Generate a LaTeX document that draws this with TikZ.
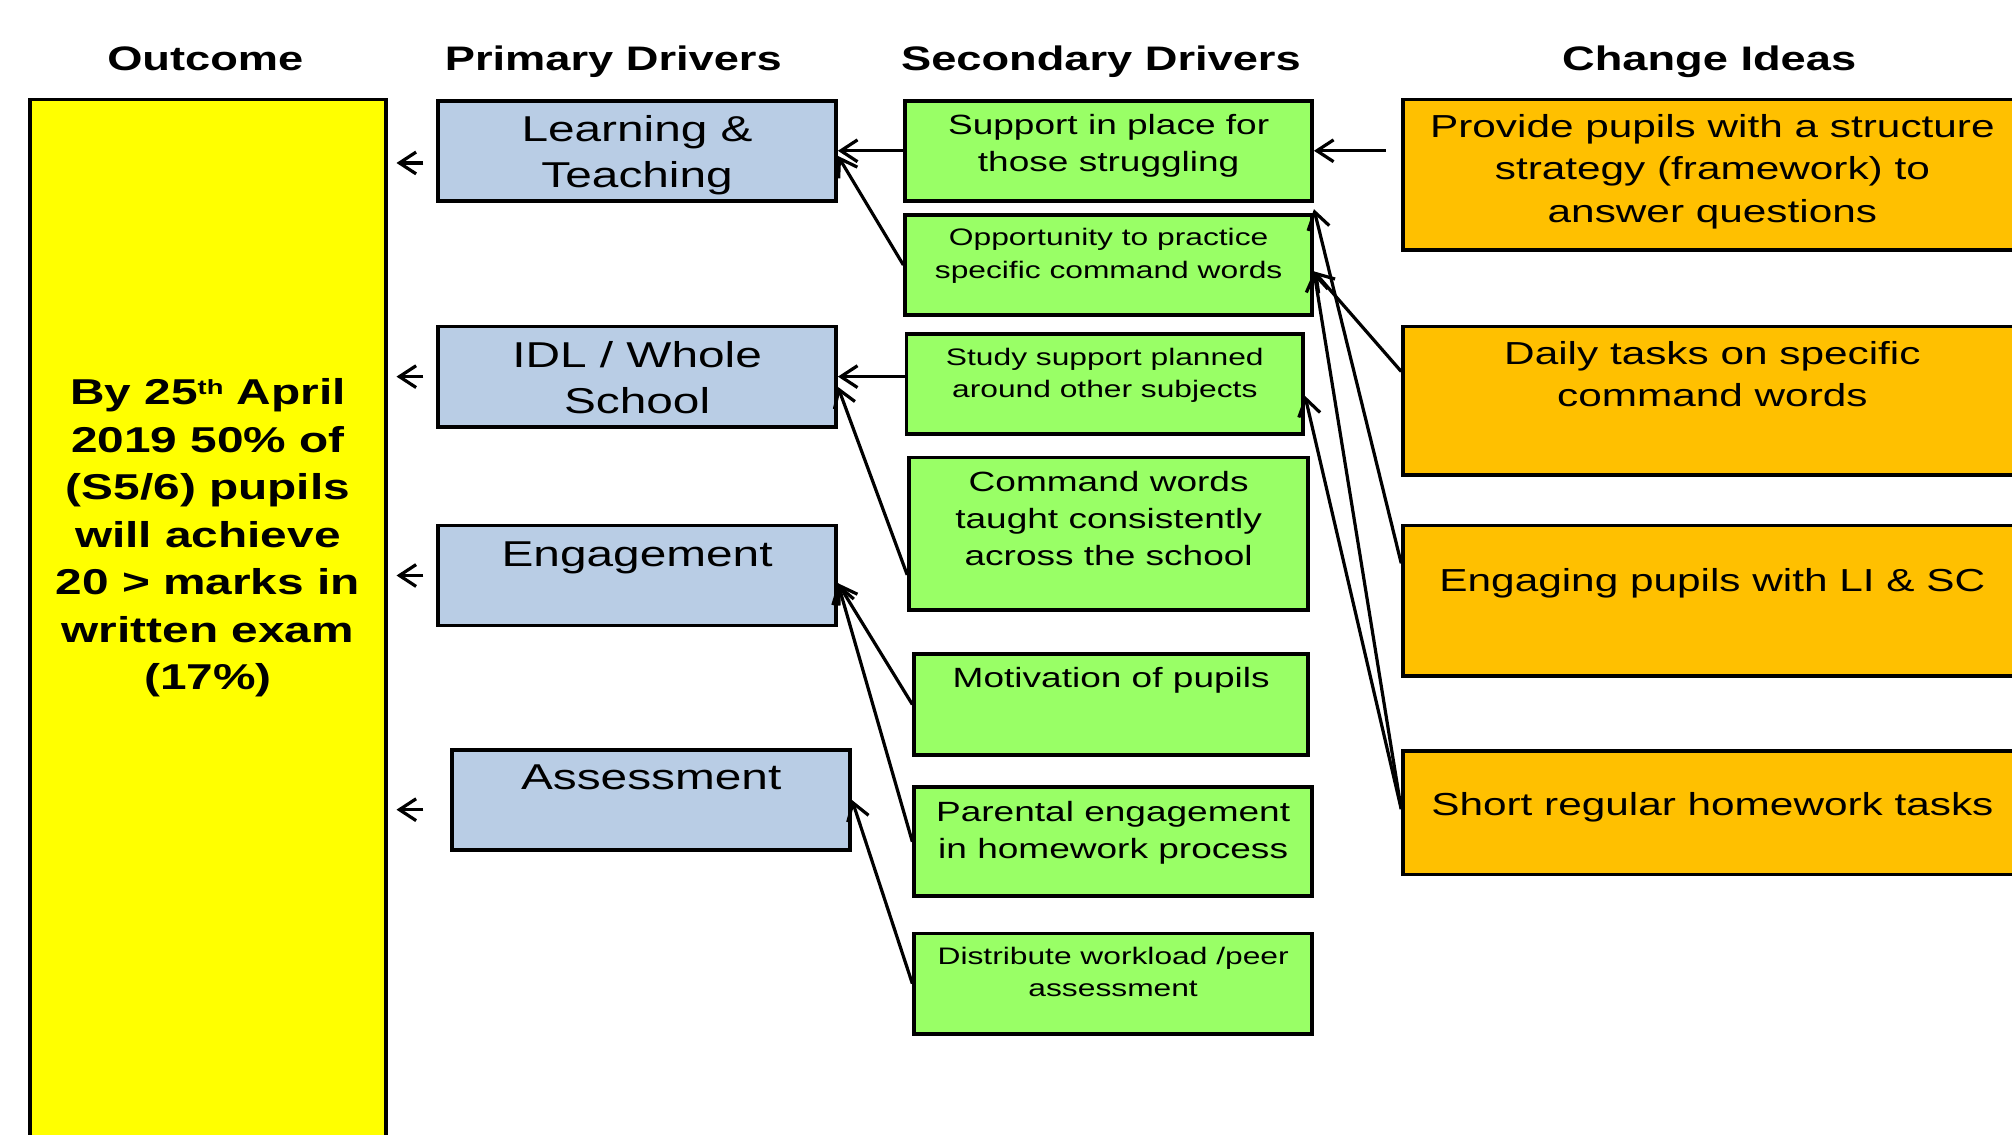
\documentclass[tikz,border=0pt]{standalone}
\usepackage{fontspec}
\setmainfont{Liberation Sans}[FakeStretch=1.33]
\usetikzlibrary{arrows.meta,positioning}

\definecolor{outyellow}{HTML}{FFFF00}
\definecolor{pdblue}{HTML}{B9CDE5}
\definecolor{sdgreen}{HTML}{99FF66}
\definecolor{ciorange}{HTML}{FFC000}

\newcommand\fHead{\fontsize{26.5}{32}\selectfont\bfseries}
\newcommand\fOut{\fontsize{28}{37}\selectfont\bfseries}
\newcommand\fPrim{\fontsize{28}{36}\selectfont}
\newcommand\fSec{\fontsize{21.7}{29}\selectfont}
\newcommand\fSecS{\fontsize{18.6}{25}\selectfont}
\newcommand\fIdea{\fontsize{24.8}{33}\selectfont}

\tikzset{
  box/.style={draw,line width=3pt,rectangle,anchor=north west,inner sep=0pt},
  intext/.style={anchor=north,align=center,inner sep=0pt},
  heading/.style={font=\fHead,anchor=base},
  arr/.style={line width=2.5pt,-{Straight Barb[length=13pt,width=17pt]}},
}

\begin{document}
\begin{tikzpicture}[x=1pt,y=-1pt]
  \useasboundingbox (0,0) rectangle (1568,884);

  % column headings
  \node[heading] (hout) at (160,55) {Outcome};
  \node[heading] (hpd) at (478,55) {Primary Drivers};
  \node[heading] (hsd) at (858,55) {Secondary Drivers};
  \node[heading] (hci) at (1332,55) {Change Ideas};

  % outcome
  \node[box,fill=outyellow,minimum width=277pt,minimum height=840pt,
    label={[intext,font=\fOut,yshift=-219pt]north:By 25\raisebox{8pt}{\fontsize{16}{16}\selectfont th} April\\2019 50\% of\\(S5/6) pupils\\will achieve\\20 > marks in\\written exam\\(17\%)}] (outcome) at (22,76) {};

  % primary drivers
  \node[box,fill=pdblue,minimum width=310pt,minimum height=78pt,
    label={[intext,font=\fPrim,yshift=-13pt]north:Learning \&\\Teaching}] (lt) at (340,77) {};
  \node[box,fill=pdblue,minimum width=310pt,minimum height=78pt,
    label={[intext,font=\fPrim,yshift=-13pt]north:IDL / Whole\\School}] (idl) at (340,253) {};
  \node[box,fill=pdblue,minimum width=310pt,minimum height=78pt,
    label={[intext,font=\fPrim,yshift=-14pt]north:Engagement}] (eng) at (340,408) {};
  \node[box,fill=pdblue,minimum width=310pt,minimum height=78pt,
    label={[intext,font=\fPrim,yshift=-13pt]north:Assessment}] (ass) at (351,583) {};

  % secondary drivers
  \node[box,fill=sdgreen,minimum width=317pt,minimum height=78pt,
    label={[intext,font=\fSec,yshift=-12pt]north:Support in place for\\those struggling}] (sup) at (704,77) {};
  \node[box,fill=sdgreen,minimum width=317pt,minimum height=78pt,
    label={[intext,font=\fSecS,yshift=-12pt]north:Opportunity to practice\\specific command words}] (opp) at (704,166) {};
  \node[box,fill=sdgreen,minimum width=309pt,minimum height=78pt,
    label={[intext,font=\fSecS,yshift=-12pt]north:Study support planned\\around other subjects}] (study) at (705,259) {};
  \node[box,fill=sdgreen,minimum width=311pt,minimum height=119pt,
    label={[intext,font=\fSec,yshift=-12pt]north:Command words\\taught consistently\\across the school}] (cmd) at (707,355) {};
  \node[box,fill=sdgreen,minimum width=307pt,minimum height=79pt,
    label={[intext,font=\fSec,yshift=-12pt]north:Motivation of pupils}] (mot) at (711,508) {};
  \node[box,fill=sdgreen,minimum width=310pt,minimum height=85pt,
    label={[intext,font=\fSec,yshift=-12pt]north:Parental engagement\\in homework process}] (par) at (711,612) {};
  \node[box,fill=sdgreen,minimum width=310pt,minimum height=78pt,
    label={[intext,font=\fSecS,yshift=-12pt]north:Distribute workload /peer\\assessment}] (dist) at (711,726) {};

  % change ideas
  \node[box,fill=ciorange,minimum width=482pt,minimum height=117pt,
    label={[intext,font=\fIdea,yshift=-13pt]north:Provide pupils with a structure\\strategy (framework) to\\answer questions}] (ci1) at (1092,76) {};
  \node[box,fill=ciorange,minimum width=482pt,minimum height=116pt,
    label={[intext,font=\fIdea,yshift=-13pt]north:Daily tasks on specific\\command words}] (ci2) at (1092,253) {};
  \node[box,fill=ciorange,minimum width=482pt,minimum height=117pt,
    label={[intext,font=\fIdea,yshift=-35pt]north:Engaging pupils with LI \& SC}] (ci3) at (1092,408) {};
  \node[box,fill=ciorange,minimum width=482pt,minimum height=96pt,
    label={[intext,font=\fIdea,yshift=-33pt]north:Short regular homework tasks}] (ci4) at (1092,584) {};

  % primary drivers -> outcome
  \draw[arr,shorten <=10pt,shorten >=7pt] (lt.west |- 0,127) -- (outcome.east |- 0,127);
  \draw[arr,shorten <=10pt,shorten >=7pt] (idl.west) -- (outcome.east |- idl.west);
  \draw[arr,shorten <=10pt,shorten >=7pt] (eng.west) -- (outcome.east |- eng.west);
  \draw[arr,shorten <=21pt,shorten >=7pt] (ass.west |- 0,631) -- (outcome.east |- 0,631);

  % secondary -> primary
  \draw[arr] (sup.west) -- (lt.east);
  \draw[arr] (opp.west) -- ([yshift=-4pt]lt.east);
  \draw[arr] (study.west |- idl.east) -- (idl.east);
  \draw[arr] ([yshift=29pt]cmd.south west) -- ([yshift=-8pt]idl.east);
  \draw[arr] (mot.west) -- ([yshift=-6pt]eng.east);
  \draw[arr] (par.west) -- ([yshift=-6pt]eng.east);
  \draw[arr] (dist.west) -- (ass.east);

  % change ideas -> secondary
  \draw[arr,shorten <=12pt] (ci1.west |- sup.east) -- (sup.east);
  \draw[arr] ([yshift=23pt]ci2.west) -- ([yshift=-5pt]opp.east);
  \draw[arr] ([yshift=-31pt]ci3.north west) -- ([yshift=-5pt]sup.south east);
  \draw[arr] ([yshift=3pt]ci4.west) -- ([yshift=-5pt]opp.east);
  \draw[arr] ([yshift=3pt]ci4.west) -- ([yshift=-9pt]study.east);
\end{tikzpicture}
\end{document}
